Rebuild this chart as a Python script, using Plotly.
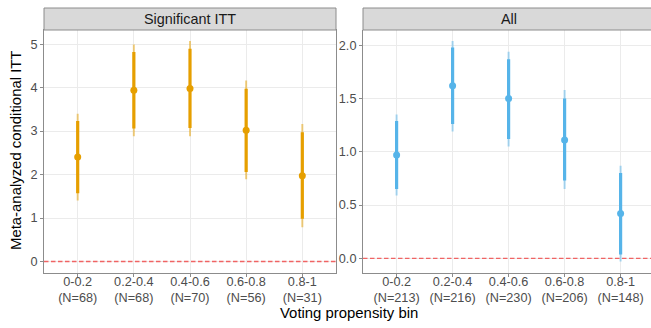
import plotly.graph_objects as go

# ---- data ----
bins = ["0-0.2", "0.2-0.4", "0.4-0.6", "0.6-0.8", "0.8-1"]
n_sig = [68, 68, 70, 56, 31]
n_all = [213, 216, 230, 206, 148]

est_sig = [2.40, 3.94, 3.98, 3.02, 1.97]
lo90_sig = [1.57, 3.06, 3.07, 2.06, 0.98]
hi90_sig = [3.23, 4.82, 4.89, 3.97, 2.97]
lo95_sig = [1.40, 2.88, 2.88, 1.89, 0.79]
hi95_sig = [3.40, 4.99, 5.07, 4.16, 3.16]

est_all = [0.97, 1.62, 1.50, 1.11, 0.42]
lo90_all = [0.65, 1.26, 1.12, 0.73, 0.035]
hi90_all = [1.29, 1.98, 1.87, 1.50, 0.80]
lo95_all = [0.59, 1.19, 1.05, 0.65, -0.03]
hi95_all = [1.35, 2.04, 1.94, 1.58, 0.87]

yticks_sig = [0, 1, 2, 3, 4, 5]
yticks_all = [0.0, 0.5, 1.0, 1.5, 2.0]

panel_titles = ["Significant ITT", "All"]
colors = ["#E69F00", "#56B4E9"]
colors_light = ["rgba(230,159,0,0.5)", "rgba(86,180,233,0.5)"]

W, H = 651, 328
FONT = "Liberation Sans, Arial, sans-serif"

def labels(ns):
    return [f"{b}<br>(N={n})" for b, n in zip(bins, ns)]

fig = go.Figure()

panels = [
    (labels(n_sig), est_sig, lo90_sig, hi90_sig, lo95_sig, hi95_sig, "x", "y"),
    (labels(n_all), est_all, lo90_all, hi90_all, lo95_all, hi95_all, "x2", "y2"),
]

for i, (cats, est, lo90, hi90, lo95, hi95, xa, ya) in enumerate(panels):
    # thin (95%) interval
    fig.add_trace(go.Scatter(
        x=cats, y=est, mode="markers", marker=dict(size=1, opacity=0),
        error_y=dict(type="data", symmetric=False,
                     array=[h - e for h, e in zip(hi95, est)],
                     arrayminus=[e - l for e, l in zip(est, lo95)],
                     color=colors_light[i], thickness=2, width=0),
        xaxis=xa, yaxis=ya, showlegend=False, hoverinfo="skip"))
    # thick (90%) interval + point
    fig.add_trace(go.Scatter(
        x=cats, y=est, mode="markers", marker=dict(size=7, color=colors[i]),
        error_y=dict(type="data", symmetric=False,
                     array=[h - e for h, e in zip(hi90, est)],
                     arrayminus=[e - l for e, l in zip(est, lo90)],
                     color=colors[i], thickness=3.2, width=0),
        xaxis=xa, yaxis=ya, showlegend=False))

def yrange(lo95, hi95):
    lo = min(0, min(lo95)); hi = max(0, max(hi95))
    pad = 0.05 * (hi - lo)
    return [lo - pad, hi + pad]

x1d = [44 / W, 336 / W]
x2d = [363 / W, 1.0]
ybot = 1 - 272.5 / H
ytop = 1 - 30 / H
step = 56.0
x2_end = -0.6 + (W - 363) / step

axis_common = dict(showgrid=True, gridcolor="#EBEBEB", gridwidth=1, zeroline=False,
                   showline=True, linecolor="#8C8C8C", linewidth=1,
                   ticks="outside", ticklen=3, tickcolor="#8C8C8C", tickwidth=1,
                   tickfont=dict(family=FONT, size=12.7, color="#4D4D4D"),
                   automargin=False)

fig.update_layout(
    width=W, height=H, margin=dict(l=0, r=0, t=0, b=0),
    paper_bgcolor="white", plot_bgcolor="white",
    xaxis=dict(domain=x1d, anchor="y", type="category", range=[-0.6, 4.6],
               mirror=True, ticklabelstandoff=-6, **axis_common),
    yaxis=dict(domain=[ybot, ytop], anchor="x", range=yrange(lo95_sig, hi95_sig),
               tickvals=yticks_sig, ticktext=[f"{v:g}" for v in yticks_sig],
               mirror=True, **axis_common),
    xaxis2=dict(domain=x2d, anchor="y2", type="category", range=[-0.6, x2_end],
                mirror=False, ticklabelstandoff=-6, **axis_common),
    yaxis2=dict(domain=[ybot, ytop], anchor="x2", range=yrange(lo95_all, hi95_all),
                tickvals=yticks_all, ticktext=[f"{v:.1f}" for v in yticks_all],
                mirror=False, **axis_common),
)

shapes = []
for xd in (x1d, [x2d[0], 1.02]):
    shapes.append(dict(type="rect", xref="paper", yref="paper",
                       x0=xd[0], x1=xd[1], y0=ytop, y1=1 - 8 / H,
                       fillcolor="#D9D9D9", line=dict(color="#8C8C8C", width=1),
                       layer="above"))
for xd, yr in ((x1d, "y"), (x2d, "y2")):
    shapes.append(dict(type="line", xref="paper", yref=yr, x0=xd[0], x1=xd[1], y0=0, y1=0,
                       line=dict(color="#F06464", width=1.3, dash="4.5px,2.5px"),
                       layer="above"))
fig.update_layout(shapes=shapes)

annotations = [
    dict(text=panel_titles[0], xref="paper", yref="paper",
         x=(x1d[0] + x1d[1]) / 2, y=1 - 19 / H, showarrow=False,
         font=dict(family=FONT, size=14.4, color="#1A1A1A"), xanchor="center", yanchor="middle"),
    dict(text=panel_titles[1], xref="paper", yref="paper",
         x=(363 + 654) / 2 / W, y=1 - 19 / H, showarrow=False,
         font=dict(family=FONT, size=14.4, color="#1A1A1A"), xanchor="center", yanchor="middle"),
    dict(text="Voting propensity bin", xref="paper", yref="paper",
         x=349 / W, y=1 - 313 / H, showarrow=False,
         font=dict(family=FONT, size=14.9, color="#000000"), xanchor="center", yanchor="middle"),
    dict(text="Meta-analyzed conditional ITT", xref="paper", yref="paper",
         x=16 / W, y=1 - 151 / H, showarrow=False, textangle=-90,
         font=dict(family=FONT, size=14.9, color="#000000"), xanchor="center", yanchor="middle"),
]
fig.update_layout(annotations=annotations)

fig.write_html("out.html", config={"displayModeBar": False},
               post_script="document.body.style.margin='0';document.body.style.overflow='hidden';")
